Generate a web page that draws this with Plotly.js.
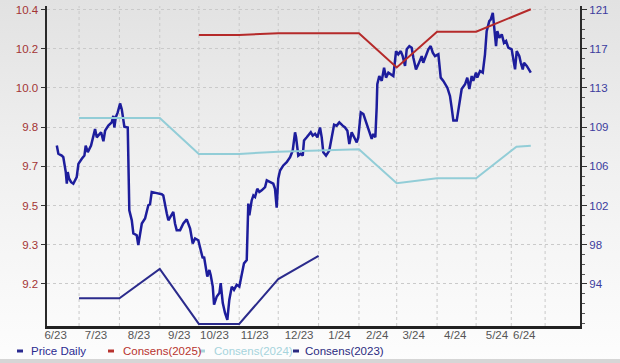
<!DOCTYPE html>
<html><head><meta charset="utf-8">
<script src="https://cdn.plot.ly/plotly-3.0.1.min.js"></script>
<style>html,body{margin:0;padding:0;background:#fff}#chart{width:620px;height:363px}</style>
</head><body><div id="chart"></div>
<script>
// Price: days since 2023-07-01 and daily price (left axis)
const priceDay = [-17.1,-15.9,-13.3,-12.1,-10.2,-9.4,-8.7,-7.7,-6.1,-4.4,-1.8,-0.5,2.1,4.1,5.1,6.7,9.2,11.0,12.3,13.6,15.4,16.9,18.7,20.0,22.5,25.1,26.3,27.1,28.2,29.7,31.5,32.8,34.8,37.4,38.6,40.5,41.7,44.3,45.5,48.2,50.7,53.2,54.5,55.8,59.7,63.5,64.7,66.1,67.4,68.6,69.9,72.4,73.7,75.0,77.6,80.1,82.7,85.3,87.3,89.1,91.6,92.9,95.0,96.0,97.5,98.5,100.1,101.1,102.7,103.7,105.8,107.8,108.8,110.4,112.1,113.9,115.4,117.3,119.0,121.1,123.1,124.9,126.7,128.8,130.0,130.8,132.6,133.9,135.2,136.9,138.5,140.3,142.9,144.2,146.7,149.2,150.5,151.8,153.0,154.4,156.9,159.5,162.1,164.1,165.9,166.7,168.4,170.3,171.8,172.8,174.9,176.9,178.0,179.5,181.3,183.1,185.1,186.4,187.6,189.7,192.2,194.1,195.9,197.9,199.9,202.5,204.3,206.1,207.6,209.4,211.2,213.3,214.5,215.3,216.4,218.4,219.7,221.0,223.0,224.8,226.0,227.6,228.6,229.1,230.6,232.5,234.3,235.8,237.6,239.4,241.4,243.5,245.2,247.1,248.6,250.4,251.7,253.7,255.5,256.8,258.8,260.6,261.9,263.2,264.4,266.5,268.3,270.1,271.7,273.4,276.0,277.8,279.8,282.9,284.9,286.2,287.5,290.1,291.3,292.6,293.9,296.5,298.2,299.8,301.6,302.8,304.9,305.9,308.0,310.1,311.8,313.1,315.1,316.2,317.8,318.8,320.3,321.3,322.8,324.7,326.4,328.0,329.7,332.3,333.6,334.9,336.2,338.2,339.3,340.8,341.8,343.9,347.0];
const priceVal = [9.805,9.769,9.761,9.754,9.689,9.638,9.689,9.661,9.645,9.638,9.667,9.725,9.747,9.761,9.805,9.776,9.805,9.856,9.877,9.841,9.856,9.863,9.824,9.870,9.892,9.906,9.935,9.884,9.928,9.950,9.989,9.964,9.887,9.884,9.522,9.478,9.421,9.413,9.370,9.464,9.486,9.544,9.548,9.602,9.597,9.592,9.587,9.536,9.508,9.478,9.493,9.515,9.464,9.435,9.435,9.464,9.482,9.442,9.377,9.399,9.391,9.362,9.312,9.319,9.261,9.232,9.261,9.239,9.188,9.109,9.145,9.160,9.203,9.116,9.073,9.043,9.130,9.188,9.174,9.196,9.188,9.239,9.290,9.304,9.551,9.500,9.565,9.587,9.580,9.616,9.602,9.609,9.623,9.653,9.645,9.638,9.616,9.533,9.660,9.696,9.718,9.732,9.754,9.783,9.863,9.841,9.761,9.769,9.761,9.827,9.841,9.856,9.863,9.848,9.856,9.841,9.884,9.841,9.776,9.761,9.783,9.841,9.896,9.892,9.906,9.892,9.884,9.870,9.812,9.863,9.841,9.819,9.841,9.884,9.950,9.943,9.921,9.899,9.870,9.834,9.856,9.841,9.971,10.073,10.109,10.088,10.145,10.102,10.124,10.117,10.109,10.218,10.204,10.218,10.196,10.153,10.226,10.240,10.233,10.189,10.138,10.160,10.175,10.196,10.167,10.204,10.226,10.240,10.211,10.196,10.204,10.102,10.088,10.058,10.022,9.971,9.914,9.914,9.964,10.015,10.052,10.073,10.102,10.052,10.109,10.088,10.124,10.102,10.131,10.124,10.204,10.305,10.349,10.356,10.385,10.327,10.240,10.305,10.276,10.291,10.254,10.262,10.233,10.226,10.182,10.138,10.218,10.196,10.167,10.138,10.167,10.153,10.124];

// Consensus estimates (right axis)
const cons2025Dates = ['2023-10-01','2023-11-01','2023-12-01','2024-01-01','2024-02-01','2024-03-01','2024-04-01','2024-05-01','2024-06-12'];
const cons2025 = [118.49,118.49,118.66,118.66,118.66,115.29,118.82,118.82,121.02];
const cons2024Dates = ['2023-07-01','2023-08-01','2023-09-01','2023-10-01','2023-11-01','2023-12-01','2024-01-01','2024-02-01','2024-03-01','2024-04-01','2024-05-01','2024-06-01','2024-06-12'];
const cons2024 = [110.32,110.32,110.32,106.78,106.78,107.01,107.13,107.25,103.90,104.39,104.39,107.50,107.60];
const cons2023Dates = ['2023-07-01','2023-08-01','2023-09-01','2023-10-01','2023-11-01','2023-12-01','2024-01-01'];
const cons2023 = [92.59,92.59,95.47,90.06,90.06,94.48,96.75];

// Axis labels
const xTickDates = ['2023-06-13','2023-07-14','2023-08-16','2023-09-16','2023-10-13','2023-11-13','2023-12-17','2024-01-17','2024-02-15','2024-03-14','2024-04-15','2024-05-17','2024-06-07'];
const xTickLabels = ['6/23','7/23','8/23','9/23','10/23','11/23','12/23','1/24','2/24','3/24','4/24','5/24','6/24'];
const gridDates = ['2023-07-01','2023-08-01','2023-09-01','2023-10-01','2023-11-01','2023-12-01','2024-01-01','2024-02-01','2024-03-01','2024-04-01','2024-05-01','2024-05-28','2024-06-23'];
const leftTickLabels = ['9.2','9.3','9.5','9.7','9.8','10.0','10.2','10.4'];
const rightTickLabels = ['94','98','102','106','109','113','117','121'];
const legendNames = ['Price Daily','Consens(2025)','Consens(2024)','Consens(2023)'];
const legendColors = ['#2a2a90','#b8332e','#a6d4dc','#2a2a80'];

function dayToDate(d){
  const t = Date.UTC(2023,6,1) + d*86400000;
  return new Date(t).toISOString().slice(0,19).replace('T',' ');
}

const leftStep = 1.2/7, rightStep = 27/7;
const leftVals = leftTickLabels.map((_,k)=>9.2+k*leftStep);
const rightVals = rightTickLabels.map((_,k)=>94+k*rightStep);

const W=620,H=363,L=47,R=40,T=6,B=37;
const pw=W-L-R, ph=H-T-B;
const px = v => (v-L)/pw;
const py = v => (H-B-v)/ph;

const traces = [
  {x: cons2024Dates, y: cons2024, yaxis:'y2', mode:'lines', line:{color:'#92cdd7', width:2}, hoverinfo:'skip'},
  {x: cons2023Dates, y: cons2023, yaxis:'y2', mode:'lines', line:{color:'#2b2b8c', width:2}, hoverinfo:'skip'},
  {x: cons2025Dates, y: cons2025, yaxis:'y2', mode:'lines', line:{color:'#b52a2a', width:2}, hoverinfo:'skip'},
  {x: priceDay.map(dayToDate), y: priceVal, yaxis:'y', mode:'lines', line:{color:'#1d1d9c', width:2.5}, hoverinfo:'skip'}
];

const bgSvg = "<svg xmlns='http://www.w3.org/2000/svg' width='10' height='100' preserveAspectRatio='none'><defs><linearGradient id='g' x1='0' y1='0' x2='0' y2='1'><stop offset='0' stop-color='#e2e2e2'/><stop offset='0.45' stop-color='#f0f0f0'/><stop offset='1' stop-color='#fdfdfd'/></linearGradient></defs><rect width='10' height='100' fill='url(#g)'/></svg>";

const shapes = gridDates.map(d=>({type:'line', xref:'x', yref:'paper', x0:d, x1:d, y0:0, y1:1, layer:'below', line:{color:'#c9c9c9', width:1, dash:'dot'}}));
shapes.push({type:'rect', xref:'paper', yref:'paper', x0:px(0), x1:px(W), y0:py(H), y1:py(H-4), fillcolor:'#d6d6d6', line:{width:0}, layer:'below'});
const dashX = [17,108,199,293];
const textX = [29,121,212,303];
const legY = 351;
dashX.forEach((x,i)=>shapes.push({type:'line', xref:'paper', yref:'paper', x0:px(x), x1:px(x+6), y0:py(legY), y1:py(legY), line:{color:legendColors[i], width:3}}));
const annotations = legendNames.map((n,i)=>({xref:'paper', yref:'paper', x:px(textX[i]), y:py(legY), xanchor:'left', yanchor:'middle', text:n, showarrow:false, font:{family:'Liberation Sans, Arial, sans-serif', size:11.5, color:legendColors[i]}}));

const layout = {
  width:W, height:H,
  margin:{l:L, r:R, t:T, b:B, pad:0},
  paper_bgcolor:'#ffffff', plot_bgcolor:'rgba(0,0,0,0)',
  showlegend:false,
  images:[{source:'data:image/svg+xml;charset=utf-8,'+encodeURIComponent(bgSvg), xref:'paper', yref:'paper', x:px(0), y:py(0), sizex:W/pw, sizey:H/ph, xanchor:'left', yanchor:'top', sizing:'stretch', layer:'below'}],
  xaxis:{type:'date', range:['2023-06-06 09:00','2024-07-19 19:00'], tickmode:'array', tickvals:xTickDates, ticktext:xTickLabels, showgrid:false, zeroline:false, ticks:'', showline:true, linecolor:'#222', linewidth:2.5, tickfont:{family:'Liberation Sans, Arial, sans-serif', size:11.5, color:'#555'}, ticklabelstandoff:-3},
  yaxis:{range:[10.4-8.074*leftStep, 10.4+0.089*leftStep], tickmode:'array', tickvals:leftVals, ticktext:leftTickLabels, showgrid:true, gridcolor:'#cacaca', griddash:'dot', gridwidth:1, zeroline:false, showline:true, linecolor:'#2a2a2a', linewidth:2.5, ticks:'outside', ticklen:4, tickcolor:'#333', tickfont:{family:'Liberation Sans, Arial, sans-serif', size:11.5, color:'#a33434'}},
  yaxis2:{overlaying:'y', side:'right', range:[121-8.074*rightStep, 121+0.089*rightStep], tickmode:'array', tickvals:rightVals, ticktext:rightTickLabels, showgrid:false, zeroline:false, showline:true, linecolor:'#2a2a2a', linewidth:2, ticks:'outside', ticklen:5, tickcolor:'#333', minor:{ticks:'outside', ticklen:3, tickcolor:'#555', tick0:94, dtick:rightStep/4, showgrid:false}, tickfont:{family:'Liberation Sans, Arial, sans-serif', size:11.5, color:'#3c3c9e'}},
  shapes: shapes,
  annotations: annotations
};

Plotly.newPlot('chart', traces, layout, {staticPlot:true, displayModeBar:false});
</script>
</body></html>
